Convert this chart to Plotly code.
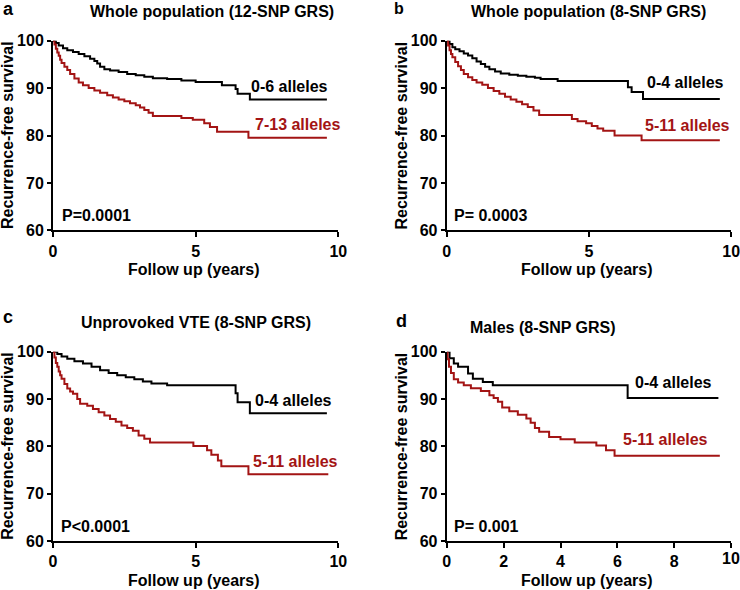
import plotly.graph_objects as go

W, H = 740, 590
RED = "#A31414"
BLACK = "#000000"
FONT = "Liberation Sans, Arial, Helvetica, sans-serif"

# ---------------- data (Kaplan-Meier step points: time in years, survival %) ----------------
# Panel a: Whole population (12-SNP GRS)
a_low_t = [0, 0.1, 0.2, 0.35, 0.5, 0.7, 0.9, 1.1, 1.3, 1.45, 1.55, 1.65, 1.8, 2.0, 2.3, 2.6, 2.9,
           3.2, 3.5, 4.0, 4.5, 5.0, 5.92, 6.4, 6.47, 6.9, 9.6]
a_low_s = [100, 99.5, 99.0, 98.4, 98.0, 97.6, 97.2, 96.7, 96.2, 95.7, 95.2, 94.5, 94.0, 93.7, 93.4,
           93.0, 92.7, 92.4, 92.1, 91.9, 91.6, 91.3, 90.6, 89.8, 88.8, 87.6, 87.6]
a_high_t = [0, 0.05, 0.1, 0.15, 0.2, 0.25, 0.3, 0.4, 0.5, 0.6, 0.75, 0.9, 1.05, 1.25, 1.45, 1.65,
            1.9, 2.1, 2.3, 2.5, 2.7, 2.9, 3.05, 3.2, 3.35, 3.5, 4.5, 4.9, 5.3, 5.5, 5.75, 6.85, 9.6]
a_high_s = [100, 99.2, 98.3, 97.5, 96.8, 96.0, 95.3, 94.5, 93.8, 93.0, 92.0, 91.2, 90.6, 90.0, 89.5,
            89.0, 88.5, 88.0, 87.6, 87.2, 86.8, 86.4, 85.9, 85.4, 84.8, 84.1, 83.7, 83.3, 82.6, 81.8,
            80.8, 79.5, 79.5]

# Panel b: Whole population (8-SNP GRS)
b_low_t = [0, 0.1, 0.2, 0.3, 0.45, 0.6, 0.75, 0.9, 1.05, 1.2, 1.35, 1.5, 1.7, 1.9, 2.2, 2.5, 2.8,
           3.1, 3.3, 3.9, 6.37, 6.5, 6.9, 9.6]
b_low_s = [100, 99.3, 98.6, 98.2, 97.8, 97.3, 96.9, 96.3, 95.6, 95.1, 94.5, 94.0, 93.5, 93.1, 92.8,
           92.6, 92.4, 92.2, 91.9, 91.5, 90.2, 89.2, 87.7, 87.7]
b_high_t = [0, 0.05, 0.1, 0.15, 0.2, 0.3, 0.4, 0.5, 0.6, 0.75, 0.9, 1.05, 1.25, 1.45, 1.65, 1.85,
            2.05, 2.25, 2.45, 2.65, 2.85, 3.05, 3.25, 4.4, 4.6, 4.9, 5.1, 5.3, 5.5, 5.9, 6.85, 9.6]
b_high_s = [100, 99.0, 98.0, 97.2, 96.5, 95.5, 94.6, 93.8, 93.0, 92.3, 91.7, 91.2, 90.7, 90.0, 89.4,
            88.8, 88.2, 87.6, 87.1, 86.6, 86.0, 85.3, 84.3, 83.5, 83.0, 82.6, 82.0, 81.5, 81.0, 80.0,
            79.0, 79.0]

# Panel c: Unprovoked VTE (8-SNP GRS)
c_low_t = [0, 0.15, 0.3, 0.5, 0.75, 1.05, 1.35, 1.65, 1.95, 2.25, 2.55, 2.85, 3.15, 3.45, 4.0,
           6.4, 6.47, 6.9, 9.6]
c_low_s = [100, 99.5, 99.0, 98.5, 98.0, 97.5, 96.8, 96.1, 95.5, 95.0, 94.6, 94.2, 93.7, 93.3, 92.9,
           91.2, 89.3, 87.0, 87.0]
c_high_t = [0, 0.05, 0.1, 0.15, 0.2, 0.25, 0.3, 0.4, 0.5, 0.6, 0.7, 0.85, 0.95, 1.2, 1.4, 1.6, 1.8,
            2.0, 2.2, 2.4, 2.6, 2.8, 3.0, 3.2, 3.4, 4.92, 5.4, 5.55, 5.78, 5.9, 6.85, 9.65]
c_high_s = [100, 98.8, 97.6, 96.8, 95.8, 95.0, 94.3, 93.2, 92.2, 91.6, 91.1, 90.0, 89.0, 88.6, 87.9,
            87.2, 86.5, 85.8, 85.2, 84.4, 83.9, 83.3, 82.3, 81.6, 80.8, 80.1, 79.2, 78.2, 77.0, 75.8,
            74.1, 74.1]

# Panel d: Males (8-SNP GRS)
d_low_t = [0, 0.1, 0.25, 0.4, 0.75, 0.92, 1.27, 1.62, 6.36, 9.55]
d_low_s = [100, 98.6, 97.5, 96.8, 95.4, 94.3, 93.6, 92.9, 90.2, 90.2]
d_high_t = [0, 0.03, 0.08, 0.15, 0.25, 0.4, 0.6, 0.85, 1.2, 1.5, 1.65, 1.8, 1.95, 2.2, 2.5, 2.8,
            2.95, 3.1, 3.25, 3.6, 4.0, 4.5, 5.26, 5.6, 5.9, 9.6]
d_high_s = [100, 98.4, 96.8, 95.5, 94.2, 93.5, 92.9, 92.3, 91.7, 90.8, 90.2, 89.4, 88.2, 87.4, 86.7,
            85.9, 85.0, 83.9, 83.1, 82.0, 81.5, 80.8, 80.2, 79.2, 78.0, 78.0]

titles = ["Whole population (12-SNP GRS)", "Whole population (8-SNP GRS)",
          "Unprovoked VTE (8-SNP GRS)", "Males (8-SNP GRS)"]
letters = ["a", "b", "c", "d"]
low_labels = ["0-6 alleles", "0-4 alleles", "0-4 alleles", "0-4 alleles"]
high_labels = ["7-13 alleles", "5-11 alleles", "5-11 alleles", "5-11 alleles"]
pvalues = ["P=0.0001", "P= 0.0003", "P<0.0001", "P= 0.001"]
x_ticks = [[0, 5, 10], [0, 5, 10], [0, 5, 10], [0, 2, 4, 6, 8, 10]]
y_ticks = [60, 70, 80, 90, 100]
x_title = "Follow up (years)"
y_title = "Recurrence-free survival"

series = [
    (a_low_t, a_low_s, a_high_t, a_high_s),
    (b_low_t, b_low_s, b_high_t, b_high_s),
    (c_low_t, c_low_s, c_high_t, c_high_s),
    (d_low_t, d_low_s, d_high_t, d_high_s),
]

# ---------------- layout geometry (pixels) ----------------
plot_x = [(53, 338.3), (446.7, 731.2), (53, 338.3), (446.7, 731.2)]
plot_y = [(40.7, 230.3), (40.7, 230.3), (351.7, 541), (351.7, 541)]
title_pos = [(211.5, 11), (588, 11), (196, 322.7), (543, 327.3)]
letter_pos = [(8, 9), (399, 9), (7.5, 317), (401, 321)]
low_label_pos = [(289, 86), (685, 82.7), (293.3, 400.3), (673.3, 382.7)]
high_label_pos = [(297.5, 124.3), (687.5, 126), (295, 461.7), (665.8, 439)]
p_pos = [(60, 215.7), (451.7, 215.7), (59.3, 526), (451.7, 526)]
ytitle_x = [7.5, 401, 7.5, 401]
xtitle_y = [269.3, 269.3, 580.7, 580.7]

def px(x):
    return x / W

def py(y):
    return 1 - y / H

FS = 16
fig = go.Figure()
annotations = []
layout = {}
for i in range(4):
    sfx = "" if i == 0 else str(i + 1)
    xa, ya = "x" + sfx, "y" + sfx
    lt, ls, ht, hs = series[i]
    fig.add_trace(go.Scatter(x=lt, y=ls, mode="lines", line=dict(color=BLACK, width=2, shape="hv"),
                             xaxis=xa, yaxis=ya, showlegend=False, hoverinfo="skip"))
    fig.add_trace(go.Scatter(x=ht, y=hs, mode="lines", line=dict(color=RED, width=2, shape="hv"),
                             xaxis=xa, yaxis=ya, showlegend=False, hoverinfo="skip"))
    x0, x1 = plot_x[i]
    y0, y1 = plot_y[i]
    xt = x_ticks[i]
    ttext = [str(v) for v in xt]
    if i == 3:
        ttext[-1] = ""  # drawn below as an annotation (the corner label renders unreliably)
    layout["xaxis" + sfx] = dict(
        domain=[px(x0), px(x1)], anchor=ya, range=[xt[0], xt[-1]],
        tickmode="array", tickvals=xt, ticktext=ttext,
        automargin=False, ticklabeloverflow="allow", autotickangles=[0],
        showline=True, linecolor="black", linewidth=2, ticks="outside", ticklen=5, tickwidth=2,
        tickcolor="black", showgrid=False, zeroline=False,
        tickfont=dict(family=FONT, size=FS, color="black", weight="bold"))
    layout["yaxis" + sfx] = dict(
        domain=[py(y1), py(y0)], anchor=xa, range=[y_ticks[0], y_ticks[-1]], tickvals=y_ticks,
        automargin=False, ticklabeloverflow="allow",
        showline=True, linecolor="black", linewidth=2, ticks="outside", ticklen=4, tickwidth=2,
        tickcolor="black", showgrid=False, zeroline=False,
        tickfont=dict(family=FONT, size=FS, color="black", weight="bold"))

    def ann(text, x, y, size=FS, color="black", xanchor="center", angle=0):
        annotations.append(dict(text=text, x=px(x), y=py(y), xref="paper", yref="paper",
                                showarrow=False, xanchor=xanchor, yanchor="middle",
                                textangle=angle,
                                font=dict(family=FONT, size=size, color=color, weight="bold")))

    ann(titles[i], *title_pos[i])
    ann(letters[i], *letter_pos[i], size=16 if i == 1 else 18)
    ann(low_labels[i], *low_label_pos[i])
    ann(high_labels[i], *high_label_pos[i], color=RED)
    ann(pvalues[i], *p_pos[i], xanchor="left")
    ann(x_title, (x0 + x1) / 2 - 2, xtitle_y[i])
    ann(y_title, ytitle_x[i], (y0 + y1) / 2, angle=-90)

# last x tick label of panel d
annotations.append(dict(text=str(x_ticks[3][-1]), x=x_ticks[3][-1], xref="x4",
                        y=py(plot_y[3][1] + 17.5), yref="paper", showarrow=False,
                        xanchor="center", yanchor="middle",
                        font=dict(family=FONT, size=FS, color="black", weight="bold")))

fig.update_layout(width=W, height=H, margin=dict(l=0, r=0, t=0, b=0, autoexpand=False),
                  paper_bgcolor="white", plot_bgcolor="white", template="none",
                  font=dict(family=FONT, weight="bold"),
                  annotations=annotations, **layout)
fig.write_html("out.html", config={"displayModeBar": False},
               post_script="document.body.style.margin='0';")
